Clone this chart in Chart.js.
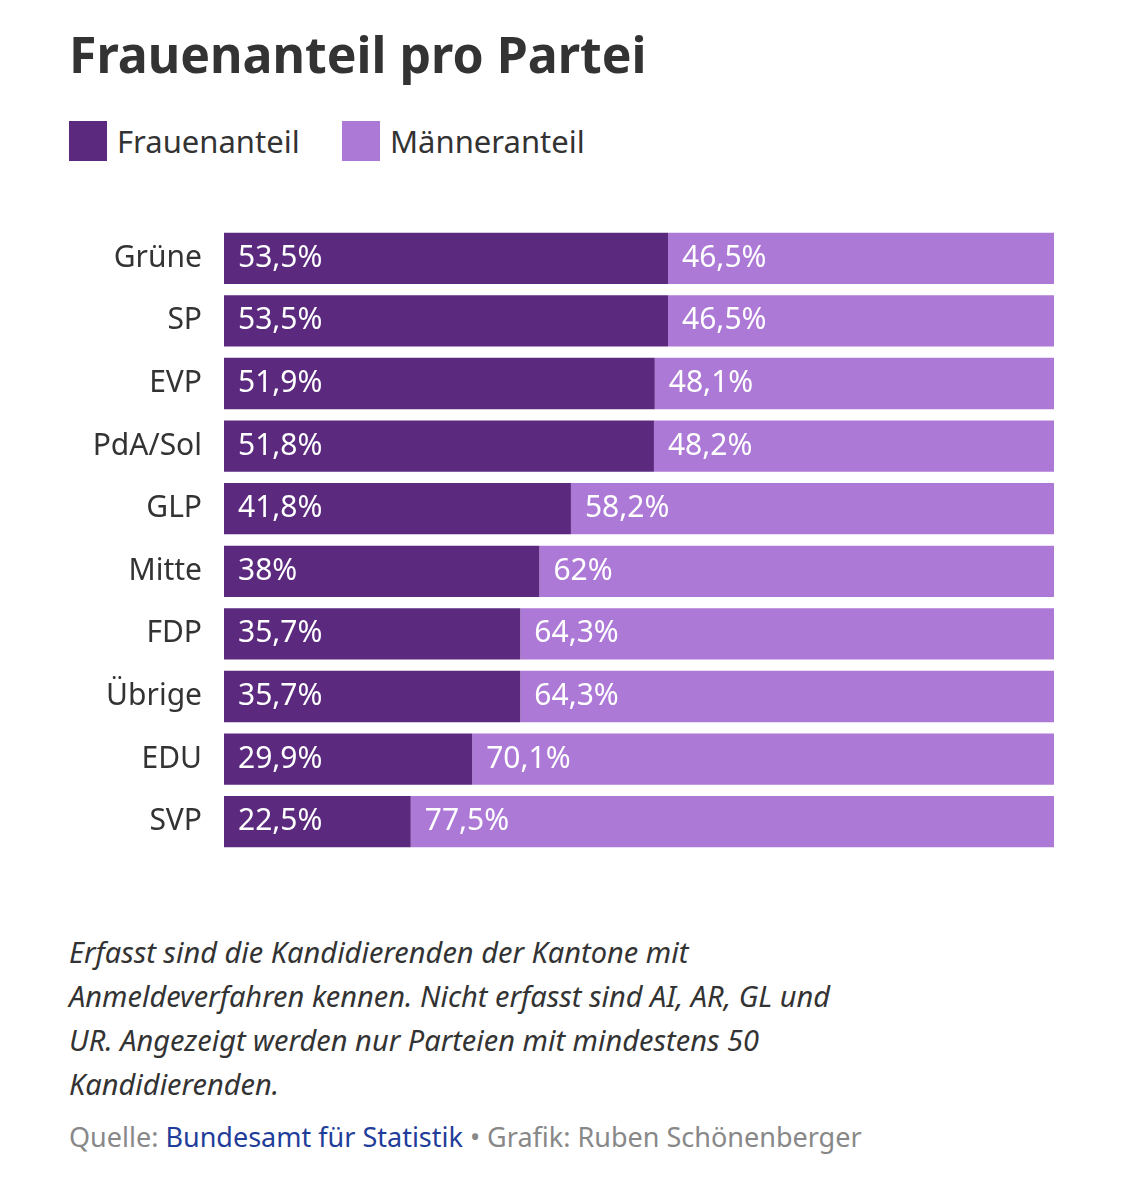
<!DOCTYPE html>
<html><head><meta charset="utf-8">
<script src="https://cdn.jsdelivr.net/npm/chart.js@4"></script>
<style>
body{margin:0;background:#fff;font-family:"Noto Sans",sans-serif;color:#333;}
#wrap{position:relative;width:1126px;height:1200px;}
h1{position:absolute;left:69px;top:20px;margin:0;font-size:50px;font-weight:700;color:#333;}
.leg{position:absolute;top:120px;font-size:31px;color:#333;display:flex;align-items:center;}
.sw{width:38px;height:40px;display:inline-block;margin-right:10px;}
#c{position:absolute;left:0;top:195px;}
.note{position:absolute;left:69px;top:930px;width:800px;font-style:italic;font-size:29px;line-height:44px;color:#333;}
.src{position:absolute;left:69px;top:1118px;font-size:27px;color:#888;}
.src a{color:#1f3d99;text-decoration:none;}
</style></head><body>
<div id="wrap">
<h1>Frauenanteil pro Partei</h1>
<div class="leg" style="left:69px"><span class="sw" style="background:#5b2a7f"></span>Frauenanteil</div>
<div class="leg" style="left:342px"><span class="sw" style="background:#ad79d6"></span>Männeranteil</div>
<canvas id="c" width="1060" height="690" style="width:1060px;height:690px"></canvas>
<div class="note">Erfasst sind die Kandidierenden der Kantone mit Anmeldeverfahren kennen. Nicht erfasst sind AI, AR, GL und UR. Angezeigt werden nur Parteien mit mindestens 50 Kandidierenden.</div>
<div class="src">Quelle: <a>Bundesamt für Statistik</a> • Grafik: Ruben Schönenberger</div>
</div>
<script>
const categories=["Grüne","SP","EVP","PdA/Sol","GLP","Mitte","FDP","Übrige","EDU","SVP"];
const women=[53.5,53.5,51.9,51.8,41.8,38,35.7,35.7,29.9,22.5];
const men=[46.5,46.5,48.1,48.2,58.2,62,64.3,64.3,70.1,77.5];
const fmt=v=>String(v).replace('.',',')+'%';
const labels={id:'lbl',afterDatasetsDraw(ch){const ctx=ch.ctx;ctx.save();ctx.fillStyle='#fff';ctx.font='30px "Noto Sans"';ctx.textBaseline='middle';
ch.data.datasets.forEach((ds,i)=>{ch.getDatasetMeta(i).data.forEach((b,j)=>{const x0=Math.min(b.x,b.base);ctx.fillText(fmt(ds.data[j]),x0+14,b.y);});});ctx.restore();}};
new Chart(document.getElementById('c'),{type:'bar',
data:{labels:categories,datasets:[
{label:'Frauenanteil',data:women,backgroundColor:'#5b2a7f'},
{label:'Männeranteil',data:men,backgroundColor:'#ad79d6'}]},
options:{indexAxis:'y',responsive:false,animation:false,devicePixelRatio:1,
datasets:{bar:{barPercentage:0.82,categoryPercentage:1}},
layout:{padding:{right:6,top:0,bottom:0}},
plugins:{legend:{display:false},tooltip:{enabled:false}},
scales:{x:{stacked:true,min:0,max:100,display:false},
y:{stacked:true,grid:{display:false},border:{display:false},afterFit(s){s.width=224;},
ticks:{color:'#333',font:{size:30,family:'Noto Sans'},padding:14}}}},
plugins:[labels]});
</script>
</body></html>
